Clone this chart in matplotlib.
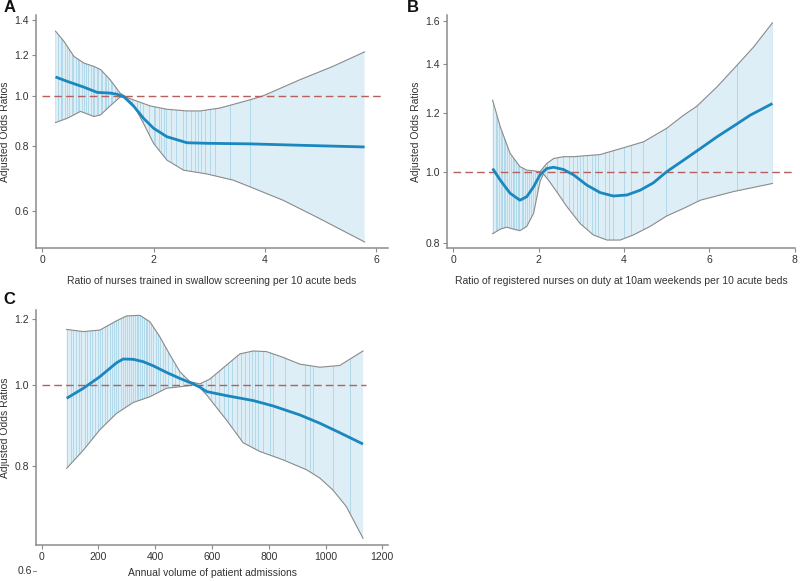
import numpy as np
import matplotlib
matplotlib.use("Agg")
import matplotlib.pyplot as plt
from matplotlib.ticker import NullLocator

plt.rcParams["font.family"] = ["Liberation Sans", "DejaVu Sans"]

# ---- panel A: nurses trained in swallow screening ----
a_mid_x = [0.24, 0.45, 0.75, 0.99, 1.22, 1.34, 1.46, 1.64, 1.82, 2.00, 2.24, 2.60, 2.96, 3.73, 4.63, 5.79]
a_mid = [1.087, 1.066, 1.039, 1.015, 1.012, 1.007, 0.997, 0.956, 0.905, 0.866, 0.834, 0.812, 0.810, 0.808, 0.803, 0.797]
a_up_x = [0.24, 0.39, 0.57, 0.75, 0.93, 1.05, 1.22, 1.40, 1.52, 1.64, 1.94, 2.24, 2.60, 2.84, 3.19, 3.73, 3.97, 4.63, 5.22, 5.79]
a_up = [1.332, 1.274, 1.191, 1.156, 1.139, 1.123, 1.074, 1.012, 0.993, 0.982, 0.956, 0.942, 0.935, 0.935, 0.947, 0.982, 1.000, 1.074, 1.139, 1.215]
a_lo_x = [0.24, 0.45, 0.69, 0.93, 1.05, 1.22, 1.40, 1.52, 1.64, 1.82, 2.00, 2.24, 2.54, 2.96, 3.43, 3.73, 4.33, 4.93, 5.79]
a_lo = [0.888, 0.905, 0.933, 0.912, 0.919, 0.956, 0.994, 0.990, 0.961, 0.885, 0.810, 0.752, 0.719, 0.707, 0.688, 0.668, 0.629, 0.584, 0.523]
a_rug = [0.24, 0.29, 0.33, 0.36, 0.41, 0.44, 0.48, 0.53, 0.56, 0.61, 0.64, 0.67, 0.72, 0.76, 0.79, 0.83,
         0.87, 0.91, 0.94, 0.98, 1.01, 1.05, 1.08, 1.12, 1.15, 1.19, 1.23, 1.26, 1.30, 1.34, 1.38, 1.43,
         1.52, 1.61, 1.70, 1.76, 1.82, 1.91, 2.00, 2.09, 2.18, 2.02, 2.14, 2.23, 2.32, 2.41, 2.53, 2.59,
         2.68, 2.74, 2.80, 2.86, 2.92, 3.01, 3.10, 3.37, 3.73, 5.79]

# ---- panel B: registered nurses on duty at 10am weekends ----
b_mid_x = [0.92, 1.10, 1.33, 1.56, 1.72, 1.88, 2.03, 2.19, 2.35, 2.58, 2.82, 3.13, 3.44, 3.75, 4.07, 4.38, 4.69, 5.00, 5.40, 5.79, 6.18, 6.57, 6.96, 7.48]
b_mid = [1.010, 0.974, 0.935, 0.915, 0.925, 0.954, 0.990, 1.010, 1.014, 1.007, 0.990, 0.959, 0.937, 0.927, 0.930, 0.944, 0.966, 1.000, 1.037, 1.075, 1.115, 1.153, 1.193, 1.237]
b_up_x = [0.92, 1.10, 1.33, 1.56, 1.72, 1.88, 2.03, 2.19, 2.35, 2.58, 2.82, 3.44, 4.07, 4.46, 5.00, 5.40, 5.71, 6.18, 6.65, 7.04, 7.48]
b_up = [1.250, 1.150, 1.059, 1.016, 1.005, 1.003, 1.000, 1.026, 1.042, 1.048, 1.048, 1.055, 1.081, 1.098, 1.145, 1.193, 1.227, 1.303, 1.394, 1.476, 1.591]
b_lo_x = [0.92, 1.10, 1.25, 1.41, 1.56, 1.72, 1.88, 2.03, 2.11, 2.23, 2.42, 2.66, 2.97, 3.28, 3.60, 3.91, 4.22, 4.61, 5.00, 5.40, 5.79, 6.57, 7.48]
b_lo = [0.824, 0.836, 0.841, 0.836, 0.832, 0.843, 0.878, 0.969, 0.993, 0.974, 0.940, 0.897, 0.851, 0.821, 0.808, 0.808, 0.821, 0.843, 0.871, 0.892, 0.915, 0.940, 0.964]
b_rug = [0.94, 0.99, 1.03, 1.07, 1.11, 1.15, 1.19, 1.22, 1.26, 1.31, 1.35, 1.39, 1.43, 1.47, 1.52, 1.55,
         1.60, 1.64, 1.69, 1.73, 1.78, 1.82, 1.87, 1.92, 1.96, 2.01, 2.06, 2.11, 2.15, 2.19,
         2.43, 2.58, 2.70, 2.81, 2.89, 2.97, 3.05, 3.13, 3.25, 3.32, 3.40, 3.56, 3.64, 3.75, 3.99,
         4.16, 4.44, 4.98, 5.71, 6.65, 7.48]

# ---- panel C: annual volume of patient admissions ----
c_mid_x = [88, 147, 205, 264, 287, 323, 358, 393, 440, 487, 534, 557, 581, 651, 745, 815, 909, 980, 1050, 1132]
c_mid = [0.964, 0.991, 1.023, 1.063, 1.074, 1.073, 1.066, 1.054, 1.035, 1.018, 1.003, 0.994, 0.982, 0.971, 0.958, 0.944, 0.921, 0.900, 0.877, 0.850]
c_up_x = [88, 147, 205, 264, 299, 346, 381, 416, 452, 487, 522, 557, 592, 651, 698, 745, 792, 850, 909, 980, 1050, 1132]
c_up = [1.165, 1.158, 1.163, 1.193, 1.209, 1.211, 1.190, 1.142, 1.086, 1.037, 1.009, 1.003, 1.016, 1.056, 1.089, 1.098, 1.096, 1.079, 1.059, 1.050, 1.055, 1.098]
c_lo_x = [88, 147, 205, 264, 323, 381, 440, 487, 534, 557, 581, 616, 651, 710, 768, 850, 933, 980, 1026, 1073, 1132]
c_lo = [0.795, 0.836, 0.884, 0.925, 0.953, 0.968, 0.991, 0.995, 1.000, 0.993, 0.973, 0.940, 0.908, 0.853, 0.833, 0.814, 0.792, 0.774, 0.749, 0.716, 0.656]
c_rug = [90, 104, 112, 121, 133, 140, 152, 160, 171, 178, 189, 197, 206, 214, 222, 231, 239, 246,
         255, 262, 270, 279, 286, 294, 301, 309, 316, 322, 329, 335, 341, 348, 353, 359, 366, 372,
         379, 386, 393, 401, 409, 418, 427, 436, 446, 458, 470, 484, 497, 512, 527, 545, 560,
         578, 596, 611, 626, 641, 655, 671, 688, 702, 716, 730, 741, 751, 762, 780, 803, 815,
         856, 927, 944, 956, 1026, 1085, 1132]

x_labels = ["Ratio of nurses trained in swallow screening per 10 acute beds",
            "Ratio of registered nurses on duty at 10am weekends per 10 acute beds",
            "Annual volume of patient admissions"]
panel_letters = ["A", "B", "C"]

FILL = "#ddeef6"
RUG = "#a9d5e7"
EDGE = "#8a8a8a"
MID = "#1b87bf"
REF = "#b5605c"
SPINE = "#8c8c8c"
TEXT = "#333333"
FS = 7.5


def draw_panel(ax, mx, my, ux, uy, lx, ly, rug, xlim, ylim, xticks, yticks, xlabel, ref_end, xpad=8):
    ax.set_yscale("log")
    poly = ax.fill(np.r_[ux, lx[::-1]], np.r_[uy, ly[::-1]], color=FILL, lw=0, zorder=1)[0]
    rl = ax.vlines(rug, ylim[0], ylim[1], color=RUG, lw=0.6, zorder=2)
    rl.set_clip_path(poly)
    ax.plot(ux, uy, color=EDGE, lw=0.8, zorder=3)
    ax.plot(lx, ly, color=EDGE, lw=0.8, zorder=3)
    ax.hlines(1.0, 0, ref_end, color=REF, lw=1.0, linestyles=(0, (5.5, 3)), zorder=4)
    ax.plot(mx, my, color=MID, lw=2.0, zorder=5, solid_capstyle="butt")

    ax.set_xlim(*xlim)
    ax.set_ylim(*ylim)
    ax.set_xticks(xticks)
    ax.set_yticks(yticks)
    ax.set_yticklabels(["%.1f" % t for t in yticks])
    ax.yaxis.set_minor_locator(NullLocator())
    for s in ["top", "right"]:
        ax.spines[s].set_visible(False)
    for s in ["left", "bottom"]:
        ax.spines[s].set_color(SPINE)
        ax.spines[s].set_linewidth(1.1)
    ax.tick_params(colors=SPINE, labelcolor=TEXT, length=3, width=0.8, labelsize=FS, pad=2)
    ax.set_xlabel(xlabel, fontsize=FS, color=TEXT, labelpad=xpad)
    ax.set_ylabel("Adjusted Odds Ratios", fontsize=FS, color=TEXT, labelpad=3)


fig = plt.figure(figsize=(8, 5.81), dpi=100)
axA = fig.add_axes([0.045, 0.573, 0.44, 0.401])
axB = fig.add_axes([0.5584, 0.573, 0.4354, 0.401])
axC = fig.add_axes([0.045, 0.062, 0.44, 0.4045])

draw_panel(axA, a_mid_x, a_mid, a_up_x, a_up, a_lo_x, a_lo, a_rug,
           (-0.11, 6.21), (0.509, 1.43), [0, 2, 4, 6], [0.6, 0.8, 1.0, 1.2, 1.4], x_labels[0], 6.09)
draw_panel(axB, b_mid_x, b_mid, b_up_x, b_up, b_lo_x, b_lo, b_rug,
           (-0.156, 8.01), (0.788, 1.63), [0, 2, 4, 6, 8], [0.8, 1.0, 1.2, 1.4, 1.6], x_labels[1], 8.0)
draw_panel(axC, c_mid_x, c_mid, c_up_x, c_up, c_lo_x, c_lo, c_rug,
           (-20, 1220), (0.644, 1.229), [0, 200, 400, 600, 800, 1000, 1200], [0.8, 1.0, 1.2], x_labels[2], 1143,
           xpad=4.5)

# the 0.6 label of panel C sits below the plotting area in the original
ytr = axC.get_yaxis_transform()
axC.text(-0.012, 0.6, "0.6", transform=ytr, ha="right", va="center", fontsize=FS, color=TEXT, clip_on=False)
axC.plot([-0.009, 0.0], [0.6, 0.6], transform=ytr, color=SPINE, lw=0.8, clip_on=False)

letter_pos = [(0.004, 1.0), (0.508, 1.0), (0.004, 0.497)]
for letter, (lx_, ly_) in zip(panel_letters, letter_pos):
    fig.text(lx_, ly_, letter, fontsize=12, fontweight="bold", color="#111111", ha="left", va="top")

fig.savefig("out.png", dpi=100)
